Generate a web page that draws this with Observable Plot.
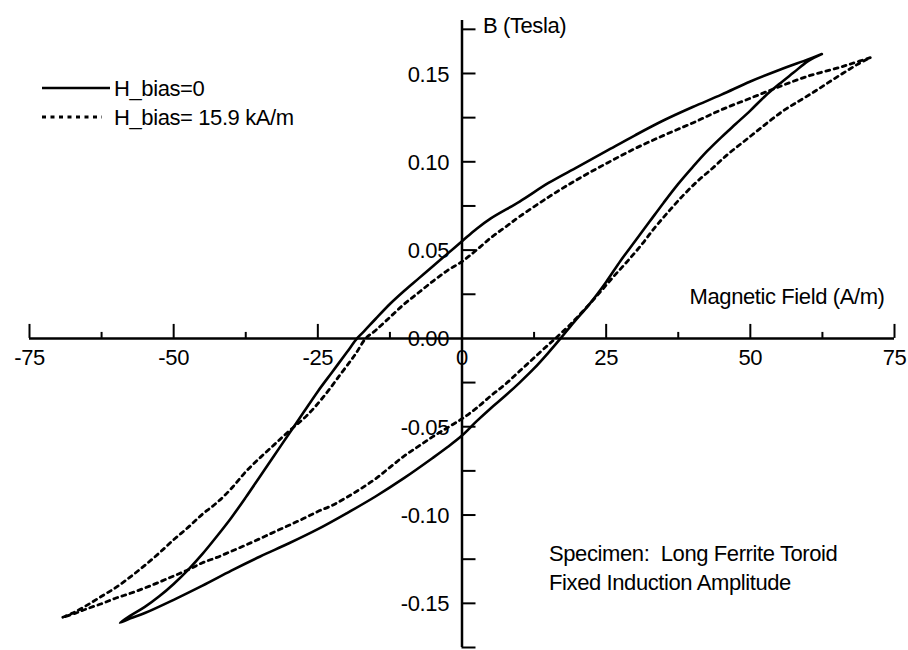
<!DOCTYPE html>
<html>
<head>
<meta charset="utf-8">
<script src="https://cdn.jsdelivr.net/npm/d3@7"></script>
<script src="https://cdn.jsdelivr.net/npm/@observablehq/plot@0.6"></script>
<style>
  html, body { margin: 0; padding: 0; background: #fff; }
  #wrap { position: relative; width: 908px; height: 650px; font-family: "Liberation Sans", Arial, sans-serif; }
  #legend { position: absolute; left: 0; top: 0; pointer-events: none; }
  #legend text { font-size: 22px; letter-spacing: -0.4px; fill: #000; }
</style>
</head>
<body>
<div id="wrap"></div>
<script>
// ---- Data (H in A/m, B in Tesla) ----
const seriesNames = ["H_bias=0", "H_bias= 15.9 kA/m"];

// H_bias = 0 : descending branch from +tip, then ascending branch back to +tip
const solidH = [62.4, 60, 55, 50, 45, 40, 35, 30, 25, 20, 15, 10, 5, 2.5, 0,
  -2.5, -5, -7.5, -10, -12.5, -15, -17, -18.2, -20, -22.5, -25, -27.5, -30, -32.5, -35,
  -37.5, -40, -42.5, -45, -47.5, -50, -52.5, -55, -57.5, -59.3,
  -57.5, -55, -50, -45, -40, -35, -30, -25, -20, -15, -10, -5, -2.5, 0,
  2.5, 5, 7.5, 10, 12.5, 15, 17.1, 19.5, 22, 25, 27.5, 30, 32.5, 35, 37.5, 40, 42.5, 45,
  47.5, 50, 52.5, 55, 57.5, 60, 62.4];
const solidB = [0.161, 0.158, 0.152, 0.1455, 0.138, 0.131, 0.1235, 0.115, 0.106, 0.097, 0.088, 0.0775, 0.068, 0.062, 0.055,
  0.048, 0.041, 0.034, 0.027, 0.0195, 0.011, 0.004, 0.0, -0.008, -0.019, -0.030, -0.042, -0.054, -0.066, -0.078,
  -0.090, -0.1015, -0.112, -0.122, -0.131, -0.139, -0.146, -0.152, -0.157, -0.161,
  -0.1585, -0.1555, -0.148, -0.140, -0.1315, -0.1235, -0.116, -0.108, -0.099, -0.0895, -0.079, -0.0675, -0.0615, -0.055,
  -0.047, -0.0395, -0.0325, -0.025, -0.017, -0.008, 0.0, 0.0095, 0.019, 0.032, 0.044, 0.055, 0.066, 0.077, 0.0875, 0.097, 0.106, 0.114,
  0.1215, 0.129, 0.137, 0.144, 0.1505, 0.157, 0.161];

// H_bias = 15.9 kA/m
const dashH = [70.8, 67.5, 65, 60, 55, 50, 45, 40, 35, 30, 25, 20, 15, 10, 7.5, 5, 2.5, 0,
  -2.5, -5, -7.5, -10, -12.5, -15, -16.7, -18.5, -21, -24, -27, -30, -32.5, -35, -37.5, -40,
  -42.5, -45, -47.5, -50, -52.5, -55, -57.5, -60, -62.5, -65, -67.5, -69.3,
  -67, -65, -62.5, -60, -57.5, -55, -52.5, -50, -47.5, -45, -42.5, -40, -37.5, -35, -32.5, -30,
  -27.5, -25, -22.5, -20, -17.5, -15, -12.5, -10, -7.5, -5, -2.5, 0,
  2.5, 5, 7.5, 10, 12.5, 15, 16.2, 18.5, 21, 23.5, 26, 28.5, 31, 33.5, 36, 38.5, 41, 43.5, 46, 48.5,
  51, 53.5, 56, 58.5, 61, 63.5, 66, 68.5, 70.8];
const dashB = [0.159, 0.1555, 0.153, 0.1485, 0.1425, 0.136, 0.1295, 0.122, 0.115, 0.1075, 0.099, 0.090, 0.080, 0.069, 0.063, 0.057, 0.050, 0.0435,
  0.0385, 0.0325, 0.026, 0.0195, 0.012, 0.0045, 0.0, -0.009, -0.020, -0.033, -0.044, -0.0525, -0.060, -0.0675, -0.0755, -0.085,
  -0.093, -0.0995, -0.107, -0.114, -0.1215, -0.1285, -0.135, -0.141, -0.146, -0.151, -0.1555, -0.158,
  -0.1555, -0.153, -0.1502, -0.147, -0.1443, -0.1413, -0.138, -0.1345, -0.131, -0.127, -0.124, -0.1205, -0.117, -0.1133, -0.1095, -0.1058,
  -0.102, -0.098, -0.0945, -0.090, -0.085, -0.0795, -0.073, -0.0665, -0.061, -0.0555, -0.0505, -0.0455,
  -0.0395, -0.0325, -0.026, -0.0185, -0.011, -0.0035, 0.0, 0.007, 0.0155, 0.0245, 0.034, 0.043, 0.0525, 0.063, 0.0725, 0.0815, 0.0895, 0.0965, 0.104, 0.1105,
  0.117, 0.1235, 0.1295, 0.1345, 0.1395, 0.1448, 0.150, 0.155, 0.159];

// Axis ticks and labels
const xMajorTicks = [-75, -50, -25, 0, 25, 50, 75];
const xMinorTicks = [-62.5, -37.5, -12.5, 12.5, 37.5, 62.5];
const xTickLabels = ["-75", "-50", "-25", "0", "25", "50", "75"];
const yTicks = [-0.175, -0.15, -0.125, -0.1, -0.075, -0.05, -0.025, 0.025, 0.05, 0.075, 0.1, 0.125, 0.15, 0.175];
const yLabelValues = [0.15, 0.10, 0.05, 0.00, -0.05, -0.10, -0.15];
const yTickLabels = ["0.15", "0.10", "0.05", "0.00", "-0.05", "-0.10", "-0.15"];

const yAxisTitle = "B (Tesla)";
const xAxisTitle = "Magnetic Field (A/m)";
const noteLines = ["Specimen:\u00a0 Long Ferrite Toroid", "Fixed Induction Amplitude"];

// ---- Build tables ----
const solidRows = solidH.map((h, i) => ({H: h, B: solidB[i]}));
const dashRows = dashH.map((h, i) => ({H: h, B: dashB[i]}));
const xLabelRows = xMajorTicks.map((v, i) => ({v, label: xTickLabels[i]}));
const yLabelRows = yLabelValues.map((v, i) => ({v, label: yTickLabels[i]}));

const FONT = "\"Liberation Sans\", Arial, sans-serif";
const textStyle = {fontSize: 22, fill: "#000", fontFamily: FONT};

const chart = Plot.plot({
  width: 908,
  height: 650,
  marginLeft: 29,
  marginRight: 14,
  marginTop: 20,
  marginBottom: 3,
  x: {domain: [-75, 75], axis: null},
  y: {domain: [-0.175, 0.18], axis: null},
  style: {background: "#fff", fontFamily: FONT, fontSize: "22px", letterSpacing: "-0.4px"},
  marks: [
    // axes lines crossing at origin
    Plot.ruleY([0], {stroke: "#000", strokeWidth: 2.5}),
    Plot.ruleX([0], {stroke: "#000", strokeWidth: 2.5}),
    // x ticks pointing up
    Plot.ruleX(xMajorTicks, {x: d => d, y1: 0, y2: 0, insetBottom: 14, stroke: "#000", strokeWidth: 2}),
    Plot.ruleX(xMinorTicks, {x: d => d, y1: 0, y2: 0, insetBottom: 6, stroke: "#000", strokeWidth: 2}),
    // y ticks pointing right
    Plot.ruleY(yTicks, {y: d => d, x1: 0, x2: 0, insetLeft: 14, stroke: "#000", strokeWidth: 2}),
    // tick labels
    Plot.text(xLabelRows, {x: "v", y: 0, text: "label", dy: 20, ...textStyle}),
    Plot.text(yLabelRows, {x: 0, y: "v", text: "label", textAnchor: "end", dx: -13, dy: 1, ...textStyle}),
    // axis titles
    Plot.text([yAxisTitle], {x: 0, frameAnchor: "top", textAnchor: "start", lineAnchor: "middle", dx: 21, dy: 5, ...textStyle}),
    Plot.text([xAxisTitle], {y: 0, frameAnchor: "right", textAnchor: "end", lineAnchor: "middle", dx: -10, dy: -41, ...textStyle}),
    // annotation
    Plot.text([noteLines[0]], {x: 0, frameAnchor: "bottom", textAnchor: "start", lineAnchor: "middle", dx: 87, dy: -94, ...textStyle}),
    Plot.text([noteLines[1]], {x: 0, frameAnchor: "bottom", textAnchor: "start", lineAnchor: "middle", dx: 87, dy: -65, ...textStyle}),
    // hysteresis loops
    Plot.line(dashRows, {x: "H", y: "B", stroke: "#000", strokeWidth: 2.8, strokeDasharray: "4,4.5", curve: "catmull-rom"}),
    Plot.line(solidRows, {x: "H", y: "B", stroke: "#000", strokeWidth: 2.6, curve: "catmull-rom"})
  ]
});

const wrap = document.getElementById("wrap");
wrap.appendChild(chart);

// ---- Legend (inside plot area, top-left) ----
const ns = "http://www.w3.org/2000/svg";
const leg = document.createElementNS(ns, "svg");
leg.setAttribute("id", "legend");
leg.setAttribute("width", 320);
leg.setAttribute("height", 140);
const legendItems = [
  {name: seriesNames[0], dash: null, x2: 110, y: 88},
  {name: seriesNames[1], dash: "4,4.5", x2: 102, y: 117}
];
legendItems.forEach(it => {
  const ln = document.createElementNS(ns, "line");
  ln.setAttribute("x1", 42); ln.setAttribute("x2", it.x2);
  ln.setAttribute("y1", it.y); ln.setAttribute("y2", it.y);
  ln.setAttribute("stroke", "#000");
  ln.setAttribute("stroke-width", it.dash ? 2.8 : 2.6);
  if (it.dash) ln.setAttribute("stroke-dasharray", it.dash);
  leg.appendChild(ln);
  const tx = document.createElementNS(ns, "text");
  tx.setAttribute("x", 114);
  tx.setAttribute("y", it.y);
  tx.setAttribute("dominant-baseline", "central");
  tx.textContent = it.name;
  leg.appendChild(tx);
});
wrap.appendChild(leg);
</script>
</body>
</html>
